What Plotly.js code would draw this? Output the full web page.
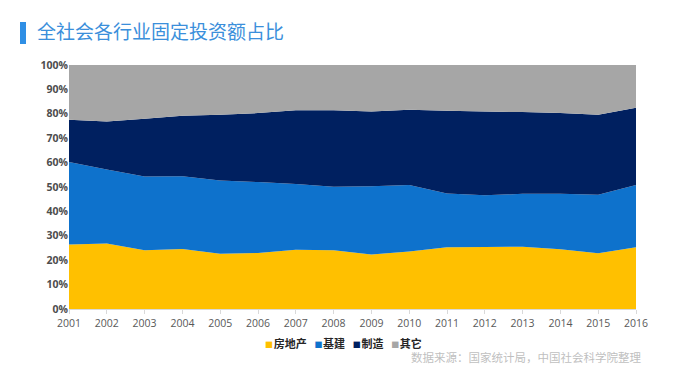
<!DOCTYPE html>
<html><head><meta charset="utf-8">
<script src="https://cdn.plot.ly/plotly-3.0.1.min.js"></script>
<style>body{margin:0;background:#fff}#c{width:680px;height:382px}</style>
</head><body><div id="c"></div>
<script>
const years = ['2001','2002','2003','2004','2005','2006','2007','2008','2009','2010','2011','2012','2013','2014','2015','2016'];
const realEstate = [26.4,26.8,24.1,24.6,22.6,23.0,24.3,24.1,22.3,23.6,25.3,25.4,25.5,24.5,22.8,25.3];
const infrastructure = [33.8,30.4,30.2,29.8,30.1,29.0,26.9,26.0,28.0,27.2,22.0,21.2,21.7,22.7,24.0,25.5];
const manufacturing = [17.4,19.6,23.7,24.8,26.9,28.3,30.3,31.4,30.6,30.9,34.0,34.3,33.5,33.1,32.8,31.7];
const other = [22.4,23.2,22.0,20.8,20.4,19.7,18.5,18.5,19.1,18.3,18.7,19.1,19.3,19.7,20.4,17.5];
const names = ['房地产','基建','制造','其它'];
const colors = ['#FFC000','#0E72CC','#002060','#A6A6A6'];
const series = [realEstate, infrastructure, manufacturing, other];

const traces = series.map((v,i)=>({
  x: years, y: v, name: names[i], type:'scatter', mode:'none',
  stackgroup:'one', groupnorm:'percent', fillcolor: colors[i],
  line:{width:0}, showlegend:false
}));

const legendText = names.map((n,i)=>'<span style="color:'+colors[i]+';font-size:8px">■</span>\u200A'+n).join('\u2002\u2009');

const layout = {
  width:680, height:382,
  margin:{l:69, r:44, t:65, b:73},
  paper_bgcolor:'#fff', plot_bgcolor:'#fff',
  font:{family:'"Noto Sans CJK SC", "Noto Sans", sans-serif', color:'#595959'},
  title:{text:'全社会各行业固定投资额占比', x:37/680, xref:'container', xanchor:'left',
         y:1-32/382, yref:'container', yanchor:'middle',
         font:{size:19, color:'#3B8FDB', family:'"Noto Sans CJK SC", sans-serif'}},
  xaxis:{type:'category', range:[0,15], showgrid:false, zeroline:false,
         showline:true, linecolor:'#D9D9D9', linewidth:1,
         ticks:'outside', ticklen:4, tickcolor:'#D9D9D9',
         tickfont:{size:10.5, color:'#595959', family:'"Open Sans", "Noto Sans", sans-serif'}},
  yaxis:{range:[0,100], dtick:10, ticksuffix:'%', showgrid:false, zeroline:false,
         showline:false, ticks:'',
         tickfont:{size:10.5, color:'#4D4D4D', family:'"Open Sans", "Noto Sans", sans-serif', weight:'bold'}},
  showlegend:false,
  shapes:[{type:'rect', xref:'paper', yref:'paper',
           x0:(20-69)/567, x1:(26-69)/567, y0:(309-22)/244, y1:(309-44)/244,
           fillcolor:'#2F8FE5', line:{width:0}}],
  annotations:[
   {text:legendText, xref:'paper', yref:'paper', x:(343-69)/567, xanchor:'center',
    y:(309-343)/244, yanchor:'middle', showarrow:false,
    font:{size:11, color:'#262626', family:'"Noto Sans CJK SC", sans-serif', weight:'bold'}},
   {text:'数据来源：国家统计局，中国社会科学院整理', xref:'paper', yref:'paper',
    x:(643-69)/567, xanchor:'right', y:(309-357)/244, yanchor:'middle', showarrow:false,
    font:{size:11.5, color:'#BFBFBF', family:'"Noto Sans CJK SC", sans-serif'}}]
};
Plotly.newPlot('c', traces, layout, {displayModeBar:false, staticPlot:true});
</script></body></html>
